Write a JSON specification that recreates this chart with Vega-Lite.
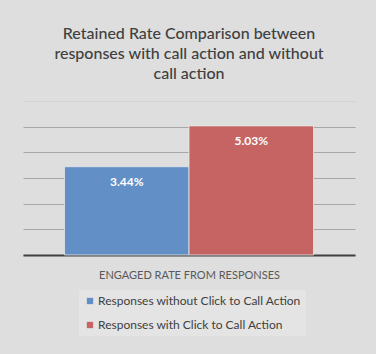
{
  "$schema": "https://vega.github.io/schema/vega-lite/v6.json",
  "width": 332,
  "height": 154,
  "autosize": {"type": "none"},
  "padding": {"left": 23, "top": 101, "right": 21, "bottom": 99},
  "background": "#dedede",
  "title": {
    "text": ["Retained Rate Comparison between", "responses with call action and without", "call action"],
    "font": "Lato",
    "fontSize": 16,
    "fontWeight": 500,
    "color": "#404040",
    "lineHeight": 20,
    "anchor": "middle",
    "offset": 19
  },
  "data": {
    "values": [
      {"series": "Responses without Click to Call Action", "value": 3.44, "label": "3.44%"},
      {"series": "Responses with Click to Call Action", "value": 5.03, "label": "5.03%"}
    ]
  },
  "encoding": {
    "x": {
      "field": "series",
      "type": "nominal",
      "sort": ["Responses without Click to Call Action", "Responses with Click to Call Action"],
      "scale": {"paddingInner": 0, "paddingOuter": 0.333},
      "axis": {
        "title": "ENGAGED RATE FROM RESPONSES",
        "labels": false,
        "ticks": false,
        "domainColor": "#404040",
        "domainWidth": 2,
        "titleFont": "Lato",
        "titleFontSize": 11,
        "titleFontWeight": "normal",
        "titleColor": "#595959",
        "titlePadding": 14
      }
    },
    "y": {
      "field": "value",
      "type": "quantitative",
      "scale": {"domain": [0, 6]},
      "axis": {
        "title": null,
        "labels": false,
        "ticks": false,
        "domain": false,
        "tickCount": 6,
        "gridColor": {"condition": {"test": "datum.value === 6", "value": "#d2d2d2"}, "value": "#a6a6a6"},
        "gridWidth": 1
      }
    }
  },
  "layer": [
    {
      "mark": {"type": "bar", "stroke": "#e8e8e8", "strokeWidth": 0.8},
      "encoding": {
        "color": {
          "field": "series",
          "type": "nominal",
          "sort": ["Responses without Click to Call Action", "Responses with Click to Call Action"],
          "scale": {
            "domain": ["Responses without Click to Call Action", "Responses with Click to Call Action"],
            "range": ["#618fc6", "#c66464"]
          },
          "legend": {
            "title": null,
            "orient": "none",
            "legendX": 56,
            "legendY": 189,
            "direction": "vertical",
            "fillColor": "#e4e4e4",
            "padding": 5,
            "symbolType": "square",
            "symbolSize": 40,
            "symbolStrokeWidth": 0,
            "labelFont": "Lato",
            "labelFontSize": 12,
            "labelColor": "#404040",
            "labelOffset": 2,
            "rowPadding": 12,
            "labelLimit": 300
          }
        }
      }
    },
    {
      "mark": {"type": "text", "dy": 15, "baseline": "middle", "font": "Lato", "fontSize": 12, "fontWeight": "bold", "color": "white"},
      "encoding": {"text": {"field": "label"}}
    }
  ],
  "config": {"view": {"stroke": null}}
}
